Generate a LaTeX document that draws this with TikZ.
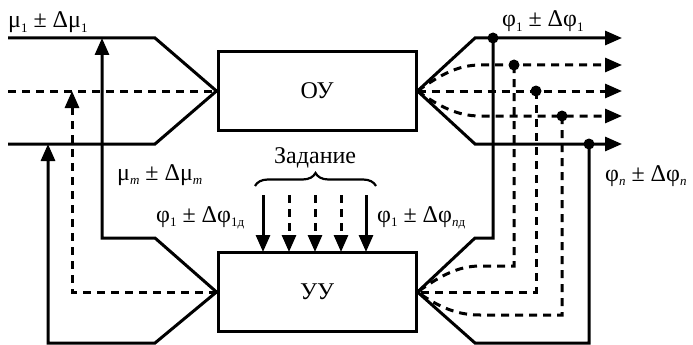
\documentclass[tikz,border=0pt]{standalone}
\usepackage{fontspec}
\setmainfont{Liberation Serif}
\usetikzlibrary{arrows.meta,decorations.pathreplacing,calc}
\newcommand\sbs[1]{\raisebox{-0.45ex}{\fontsize{13}{13}\selectfont #1}}
\begin{document}
\begin{tikzpicture}[x=1pt,y=-1pt,
  ln/.style={line width=3pt},
  dsh/.style={line width=3pt, dash pattern=on 8pt off 6pt},
  arr/.style={-{Triangle[length=17pt,width=14pt]}},
  box/.style={draw, line width=3pt, minimum width=198pt, minimum height=79pt, inner sep=0pt, font=\fontsize{24}{27}\selectfont},
  lbl/.style={font=\fontsize{24}{27}\selectfont, inner sep=0pt, anchor=base west},
  dotc/.style={circle, fill, inner sep=0pt, minimum size=11pt}]
\useasboundingbox (0,0) rectangle (693,345);
% boxes
\node[box] (ou) at (317,91) {ОУ};
\node[box] (uu) at (317,292) {УУ};
% input coordinates
\coordinate (inA) at (8,38);
\coordinate (inB) at (8,91);
\coordinate (inC) at (8,144);
\coordinate (outA) at (622,38);
\coordinate (outB) at (622,65);
\coordinate (outC) at (622,91);
\coordinate (outD) at (622,116);
\coordinate (outE) at (622,144);
% left inputs to OU
\draw[ln] (inA) -- (155,38) -- (ou.west) -- (155,144) -- (inC);
\draw[dsh] (inB) -- (ou.west);
% control actions from UU
\draw[ln,arr] (uu.west) -- (155,238) -- (102,238) -- (102,38);
\draw[dsh,arr] (uu.west) -- (72,292) -- (72,91);
\draw[ln,arr] (uu.west) -- (155,343) -- (48,343) -- (48,144);
% outputs of OU
\draw[ln,arr] (ou.east) -- (475,38) -- (outA);
\draw[dsh,arr] (ou.east) .. controls (440,75) and (458,65) .. (480,65) -- (outB);
\draw[dsh,arr] (ou.east) -- (outC);
\draw[dsh,arr] (ou.east) .. controls (440,107) and (458,116) .. (480,116) -- (outD);
\draw[ln,arr] (ou.east) -- (475,144) -- (outE);
% tap points
\node[dotc] (d1) at (493,38) {};
\node[dotc] (d2) at (514,65) {};
\node[dotc] (d3) at (536,91) {};
\node[dotc] (d4) at (562,116) {};
\node[dotc] (d5) at (589,144) {};
% feedback to UU
\draw[ln] (d1.center) -- (493,238) -- (475,238) -- (uu.east);
\draw[dsh] (d2.center) -- (514,266) -- (480,266) .. controls (458,266) and (440,276) .. (uu.east);
\draw[dsh] (d3.center) -- (536,292) -- (uu.east);
\draw[dsh] (d4.center) -- (562,315) -- (480,315) .. controls (458,315) and (440,308) .. (uu.east);
\draw[ln] (d5.center) -- (589,343) -- (475,343) -- (uu.east);
% set points
\foreach \x in {263,366} {\draw[ln,arr] (\x,195) -- (\x,252);}
\foreach \x in {289,315,341} {\draw[dsh,arr] (\x,195) -- (\x,252);}
\draw[line width=2.2pt, decorate, decoration={brace, amplitude=13pt}] (255,186) -- (376,186);
% labels
\node[lbl] (l1) at (8,28) {μ\sbs{1} ± Δμ\sbs{1}};
\node[lbl] (l2) at (502,27) {φ\sbs{1} ± Δφ\sbs{1}};
\node[lbl] (l3) at (605,181) {φ\sbs{\itshape n} ± Δφ\sbs{\itshape n}};
\node[lbl] (l4) at (117,180) {μ\sbs{\itshape m} ± Δμ\sbs{\itshape m}};
\node[lbl] (l5) at (274,163) {Задание};
\node[lbl] (l6) at (156,222) {φ\sbs{1} ± Δφ\sbs{1д}};
\node[lbl] (l7) at (377,222) {φ\sbs{1} ± Δφ\sbs{{\itshape n}д}};
\end{tikzpicture}
\end{document}
